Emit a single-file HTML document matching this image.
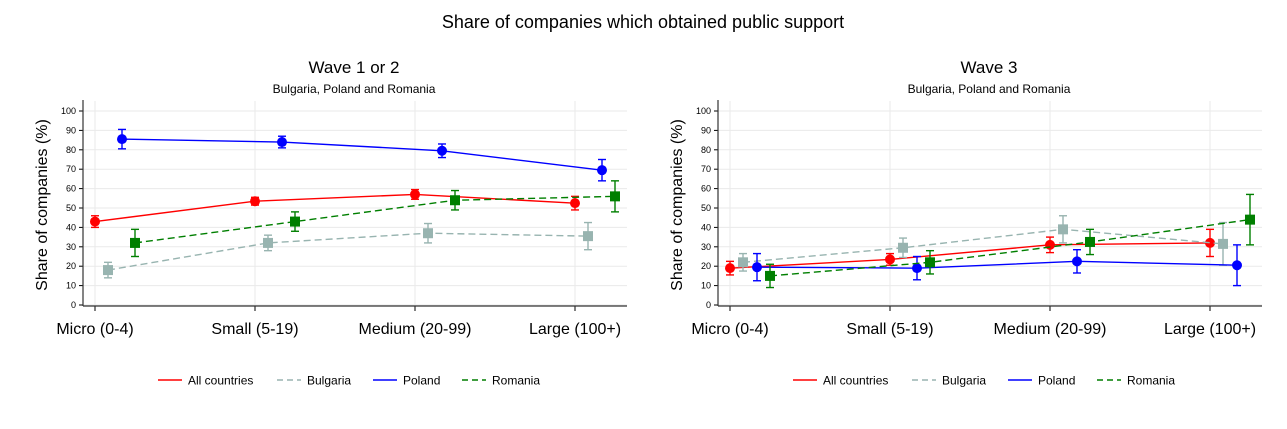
<!DOCTYPE html>
<html><head><meta charset="utf-8"><style>
body{margin:0;background:#fff;}
svg{display:block;font-family:"Liberation Sans",Arial,sans-serif;}
</style></head><body>
<svg id="chart" width="1287" height="429" viewBox="0 0 1287 429">
<text x="643" y="28" font-size="18" text-anchor="middle">Share of companies which obtained public support</text>
</svg>
<script>
const categories = ["Micro (0-4)", "Small (5-19)", "Medium (20-99)", "Large (100+)"];
const seriesNames = ["All countries", "Bulgaria", "Poland", "Romania"];
const w1All = [43, 53.5, 57, 52.5];
const w1AllErr = [3, 2, 2.5, 3.5];
const w1Bul = [18, 32, 37, 35.5];
const w1BulErr = [4, 4, 5, 7];
const w1Pol = [85.5, 84, 79.5, 69.5];
const w1PolErr = [5, 3, 3.5, 5.5];
const w1Rom = [32, 43, 54, 56];
const w1RomErr = [7, 5, 5, 8];
const w3All = [19, 23.5, 31, 32];
const w3AllErr = [3.5, 3, 4, 7];
const w3Bul = [22, 29.5, 39, 31.5];
const w3BulErr = [4.5, 5, 7, 11];
const w3Pol = [19.5, 19, 22.5, 20.5];
const w3PolErr = [7, 6, 6, 10.5];
const w3Rom = [15, 22, 32.5, 44];
const w3RomErr = [6, 6, 6.5, 13];
const yTicks = [0,10,20,30,40,50,60,70,80,90,100];

const NS = "http://www.w3.org/2000/svg";
const svg = document.getElementById("chart");
function mk(tag, attrs, parent, text){
  const e = document.createElementNS(NS, tag);
  for (const k in attrs) e.setAttribute(k, attrs[k]);
  if (text !== undefined) e.textContent = text;
  (parent||svg).appendChild(e);
  return e;
}
const styles = [
  {color:"#ff0000", dash:"", marker:"circle"},
  {color:"#98b4b0", dash:"7,4", marker:"square"},
  {color:"#0000ff", dash:"", marker:"circle"},
  {color:"#007f00", dash:"7,4", marker:"square"}
];
const offsets = [0, 13, 27, 40];

function panel(ox, title, vals, errs, key){
  const g = mk("g", {});
  
  
  const axX = ox + 83, right = ox + 627, y0 = 305, y100 = 111;
  const yS = v => y0 - (v/100)*(y0-y100);
  const xS = (i, s) => ox + 95 + i*160 + offsets[s];
  const t = mk("text", {x: ox+354, y: 73, "font-size": 17, "text-anchor": "middle"}, g, title);
  
  
  const st = mk("text", {x: ox+354, y: 93, "font-size": 12, "text-anchor": "middle"}, g, "Bulgaria, Poland and Romania");
  
  
  yTicks.forEach(v => {
    const gl = mk("line", {x1: axX, x2: right, y1: yS(v), y2: yS(v), stroke: "#eaeaea", "stroke-width": 1}, g);
    
    
    mk("line", {x1: axX-4, x2: axX, y1: yS(v), y2: yS(v), stroke: "#000"}, g);
    const tl = mk("text", {x: axX-7, y: yS(v)+3, "font-size": 9, "text-anchor": "end"}, g, String(v));
    
    
  });
  categories.forEach((c, i) => {
    const x = xS(i, 0);
    mk("line", {x1: x, x2: x, y1: y100-10, y2: y0, stroke: "#eaeaea"}, g);
    mk("line", {x1: x, x2: x, y1: y0+1, y2: y0+6, stroke: "#000"}, g);
    const cl = mk("text", {x: x, y: 334, "font-size": 16, "text-anchor": "middle"}, g, c);
    
    
  });
  mk("line", {x1: axX, x2: axX, y1: 100, y2: y0+1, stroke: "#333", "stroke-width": 1.2}, g);
  mk("line", {x1: axX, x2: right, y1: y0+1, y2: y0+1, stroke: "#333", "stroke-width": 1.2}, g);
  const yt = mk("text", {x: 0, y: 0, "font-size": 16, "text-anchor": "middle", transform: `translate(${ox+47},205) rotate(-90)`}, g, "Share of companies (%)");
  
  
  vals.forEach((arr, s) => {
    const st = styles[s];
    const pts = arr.map((v, i) => xS(i, s) + "," + yS(v)).join(" ");
    const pl = mk("polyline", {points: pts, fill: "none", stroke: st.color, "stroke-width": 1.4, "stroke-dasharray": st.dash}, g);
    
    
    arr.forEach((v, i) => {
      const x = xS(i, s), e = errs[s][i];
      const yt = yS(v+e), yb = yS(v-e);
      mk("line", {x1: x, x2: x, y1: yt, y2: yb, stroke: st.color, "stroke-width": 1.4}, g);
      mk("line", {x1: x-4, x2: x+4, y1: yt, y2: yt, stroke: st.color, "stroke-width": 1.4}, g);
      mk("line", {x1: x-4, x2: x+4, y1: yb, y2: yb, stroke: st.color, "stroke-width": 1.4}, g);
      let m;
      if (st.marker === "circle") m = mk("circle", {cx: x, cy: yS(v), r: 5, fill: st.color}, g);
      else m = mk("rect", {x: x-5, y: yS(v)-5, width: 10, height: 10, fill: st.color}, g);
      
      
    });
  });
  // legend
  const lx = [ox+158, ox+277, ox+373, ox+462];
  seriesNames.forEach((n, s) => {
    const st = styles[s];
    mk("line", {x1: lx[s], x2: lx[s]+24, y1: 380, y2: 380, stroke: st.color, "stroke-width": 1.4, "stroke-dasharray": st.dash ? "6,4" : ""}, g);
    const le = mk("text", {x: lx[s]+30, y: 384.5, "font-size": 12}, g, n);
    
    
  });
}
panel(0, "Wave 1 or 2", [w1All, w1Bul, w1Pol, w1Rom], [w1AllErr, w1BulErr, w1PolErr, w1RomErr], "wave1");
panel(635, "Wave 3", [w3All, w3Bul, w3Pol, w3Rom], [w3AllErr, w3BulErr, w3PolErr, w3RomErr], "wave3");
</script>
</body></html>
